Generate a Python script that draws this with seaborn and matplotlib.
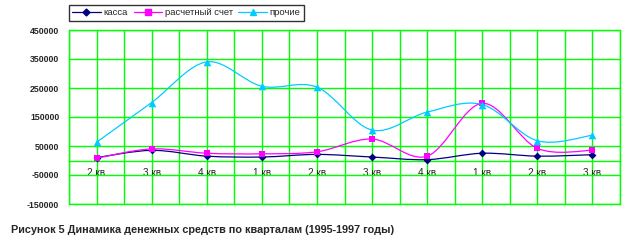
import numpy as np
import pandas as pd
import matplotlib
matplotlib.use("Agg")
import matplotlib.pyplot as plt
from matplotlib.path import Path
from matplotlib.patches import PathPatch
from matplotlib.lines import Line2D
import seaborn as sns

quarters = ["2 кв", "3 кв", "4 кв", "1 кв", "2 кв", "3 кв", "4 кв", "1 кв", "2 кв", "3 кв"]
kassa = [10000, 35000, 15000, 12000, 21000, 12000, 3000, 25000, 15000, 20000]
raschet = [8000, 40000, 25000, 23000, 30000, 74000, 15000, 197000, 42000, 35000]
prochie = [63000, 200000, 340000, 256000, 253000, 105000, 167000, 193000, 68000, 87000]
series_names = ["касса", "расчетный счет", "прочие"]
y_ticks = [-150000, -50000, 50000, 150000, 250000, 350000, 450000]
caption = "Рисунок 5 Динамика денежных средств по кварталам (1995-1997 годы)"

colors = {"касса": "#000080", "расчетный счет": "#FF00FF", "прочие": "#00CCFF"}
markers = {"касса": "D", "расчетный счет": "s", "прочие": "^"}
msizes = {"касса": 4.0, "расчетный счет": 5.0, "прочие": 5.5}

pos = np.arange(len(quarters))
df = pd.DataFrame({
    "pos": np.tile(pos, 3),
    "value": kassa + raschet + prochie,
    "series": np.repeat(series_names, len(quarters)),
})

sns.set_theme(style="white")
plt.rcParams["font.family"] = ["Liberation Sans", "DejaVu Sans"]

fig = plt.figure(figsize=(6.43, 2.5), dpi=100)
ax = fig.add_axes([69 / 643, 1 - 204 / 250, (620 - 69) / 643, (204 - 30) / 250])

GREEN = "#00FF00"


def smooth_path(xs, ys):
    pts = np.column_stack([xs, ys]).astype(float)
    n = len(pts)
    verts = [pts[0]]
    codes = [Path.MOVETO]
    for i in range(n - 1):
        p0 = pts[i - 1] if i > 0 else pts[i]
        p1 = pts[i]
        p2 = pts[i + 1]
        p3 = pts[i + 2] if i + 2 < n else pts[i + 1]
        c1 = p1 + (p2 - p0) / 6.0
        c2 = p2 - (p3 - p1) / 6.0
        verts += [c1, c2, p2]
        codes += [Path.CURVE4] * 3
    return Path(verts, codes)


for i, name in enumerate(series_names):
    sub = df[df["series"] == name]
    patch = PathPatch(smooth_path(sub["pos"].values, sub["value"].values),
                      fill=False, edgecolor=colors[name], linewidth=0.9, zorder=3 + i)
    ax.add_patch(patch)
    sns.scatterplot(data=sub, x="pos", y="value", marker=markers[name],
                    color=colors[name], s=msizes[name] ** 2, edgecolor=colors[name],
                    linewidth=0, ax=ax, zorder=3.5 + i, legend=False)

ax.set_xlim(-0.5, len(quarters) - 0.5)
ax.set_ylim(-150000, 450000)
ax.set_yticks(y_ticks)
ax.set_yticklabels([str(v) for v in y_ticks])
ax.set_xticks(pos)
ax.set_xticks(np.arange(-0.5, len(quarters), 1.0), minor=True)
ax.set_xticklabels(quarters)
ax.set_xlabel("")
ax.set_ylabel("")
for t in ax.get_yticklabels():
    t.set_fontweight("bold")

ax.grid(True, which="major", axis="both", color=GREEN, linewidth=1.0)
ax.grid(True, which="minor", axis="x", color=GREEN, linewidth=1.0)
ax.set_axisbelow(True)

for s in ["top", "left", "right"]:
    ax.spines[s].set_color(GREEN)
    ax.spines[s].set_linewidth(1.0)
ax.spines["bottom"].set_position(("data", 0))
ax.spines["bottom"].set_color(GREEN)
ax.spines["bottom"].set_linewidth(1.0)
ax.axhline(-150000, color=GREEN, linewidth=1.0, clip_on=False, zorder=2)

ax.tick_params(axis="x", which="both", length=0, pad=5.5, labelsize=7.2)
ax.tick_params(axis="y", which="both", length=0, pad=7, labelsize=6.3)

handles = [Line2D([0], [0], color=colors[n], marker=markers[n], markersize=msizes[n] - 0.5,
                  linewidth=0.9) for n in series_names]
leg = fig.legend(handles, series_names, loc="upper left", bbox_to_anchor=(69 / 643, 1 - 5 / 250),
                 ncol=3, frameon=True, fontsize=6.8, handlelength=3.0, handletextpad=0.3,
                 columnspacing=0.6, borderpad=0.35, fancybox=False, borderaxespad=0)
leg.get_frame().set_edgecolor("black")
leg.get_frame().set_linewidth(1.0)

fig.text(11 / 643, 1 - 230 / 250, caption, fontsize=7.8, fontweight="bold",
         ha="left", va="center")

fig.savefig("out.png", dpi=100, facecolor="white")
